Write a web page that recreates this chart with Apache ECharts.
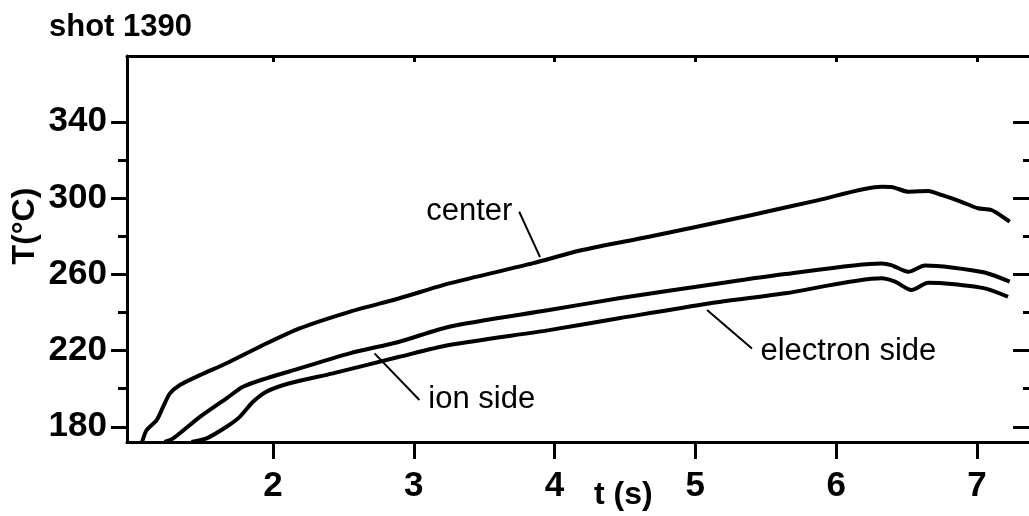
<!DOCTYPE html>
<html><head><meta charset="utf-8">
<script src="https://cdn.jsdelivr.net/npm/echarts@6/dist/echarts.min.js"></script>
<style>html,body{margin:0;padding:0;background:#fff}#c{width:1029px;height:516px}</style>
</head><body><div id="c"></div>
<script>
// ---- data ----
const xTicks = [2, 3, 4, 5, 6, 7];
const yMajor = [180, 220, 260, 300, 340];
const yMinor = [200, 240, 280, 320];

const centerTime = [1.07, 1.103, 1.174, 1.22, 1.268, 1.339, 1.481, 1.67, 1.906, 2.189, 2.544, 2.898, 3.252, 3.843, 4.197, 4.67, 5.402, 5.875, 6.323, 6.392, 6.513, 6.654, 6.748, 6.89, 7.008, 7.103, 7.233];
const centerTemp = [172.0, 178.3, 183.5, 190.5, 197.5, 201.9, 207.1, 213.3, 222.0, 231.6, 240.3, 247.4, 255.2, 265.7, 272.7, 279.7, 291.1, 298.9, 305.9, 305.8, 303.3, 303.7, 301.6, 298.0, 294.6, 293.7, 287.6];

const ionTime = [1.23, 1.291, 1.481, 1.67, 1.787, 1.953, 2.189, 2.544, 2.898, 3.252, 3.961, 4.457, 5.166, 5.639, 6.323, 6.392, 6.513, 6.631, 6.819, 7.056, 7.233];
const ionTemp = [172.0, 173.9, 185.2, 194.9, 201.0, 205.4, 210.6, 218.5, 224.6, 232.5, 241.2, 247.4, 255.2, 260.1, 265.7, 264.8, 261.3, 264.6, 263.6, 260.9, 256.1];

const electronTime = [1.42, 1.528, 1.67, 1.764, 1.858, 1.953, 2.118, 2.425, 2.898, 3.252, 3.961, 4.457, 5.095, 5.639, 6.323, 6.418, 6.536, 6.654, 6.819, 7.056, 7.221];
const electronTemp = [172.0, 173.9, 180.0, 185.2, 193.1, 198.4, 202.8, 208.0, 216.7, 222.9, 230.7, 236.9, 244.7, 250.0, 257.9, 256.1, 251.7, 255.5, 254.9, 252.6, 248.2];

// annotation anchors in data units: [label centre], [leader start], [leader end]
const centerNote = { text: 'center', label: [3.394, 292.9], from: [3.749, 292.8], to: [3.897, 269.0] };
const ionNote = { text: 'ion side', label: [3.483, 194.3], from: [3.04, 194.0], to: [2.721, 218.5] };
const electronNote = { text: 'electron side', label: [6.087, 219.5], from: [5.402, 221.1], to: [5.083, 241.2] };

const xMin = 0.963, xMax = 7.37, yMin = 172, yMax = 374.5;

function pairs(a, b) { return a.map((v, i) => [v, b[i]]); }

const FONT = '"Liberation Sans", Arial, Helvetica, sans-serif';
const black = '#000';

function noteSeries(name, t, v, note) {
  return {
    name: name, type: 'line', data: pairs(t, v),
    xAxisIndex: 0, yAxisIndex: 0,
    showSymbol: false, symbol: 'none', smooth: 0.25,
    lineStyle: { color: black, width: 4 },
    clip: true, silent: true,
    markLine: {
      silent: true, symbol: ['none', 'arrow'], symbolSize: [0, 10],
      lineStyle: { color: black, width: 2, type: 'solid' },
      label: { show: false },
      data: [[{ coord: note.from }, { coord: note.to }]]
    },
    markPoint: {
      silent: true, symbol: 'circle', symbolSize: 0,
      itemStyle: { color: 'transparent' },
      label: {
        show: true, position: 'inside', formatter: note.text,
        color: black, fontFamily: FONT, fontSize: 31, fontWeight: 'normal'
      },
      data: [{ coord: note.label }]
    }
  };
}

const chart = echarts.init(document.getElementById('c'), null, { renderer: 'canvas' });
chart.setOption({
  animation: false,
  backgroundColor: '#fff',
  grid: { left: 127, top: 56, width: 904, height: 386 },
  xAxis: [
    {
      type: 'value', position: 'bottom', min: xMin, max: xMax,
      axisLine: { show: true, lineStyle: { color: black, width: 3 } },
      axisTick: { show: true, inside: false, length: 17, customValues: xTicks, lineStyle: { color: black, width: 3 } },
      axisLabel: { show: true, customValues: xTicks, margin: 27, color: black, fontFamily: FONT, fontSize: 35, fontWeight: 'bold' },
      splitLine: { show: false }
    },
    {
      type: 'value', position: 'top', min: xMin, max: xMax,
      axisLine: { show: true, lineStyle: { color: black, width: 3 } },
      axisTick: { show: true, inside: true, length: 6, customValues: xTicks, lineStyle: { color: black, width: 3 } },
      axisLabel: { show: false },
      splitLine: { show: false }
    }
  ],
  yAxis: [
    {
      type: 'value', position: 'left', min: yMin, max: yMax,
      axisLine: { show: true, lineStyle: { color: black, width: 3 } },
      axisTick: { show: true, inside: false, length: 16, customValues: yMajor, lineStyle: { color: black, width: 3 } },
      axisLabel: { show: true, customValues: yMajor, margin: 20, color: black, fontFamily: FONT, fontSize: 35, fontWeight: 'bold' },
      splitLine: { show: false }
    },
    {
      type: 'value', position: 'left', min: yMin, max: yMax,
      axisLine: { show: false },
      axisTick: { show: true, inside: false, length: 9, customValues: yMinor, lineStyle: { color: black, width: 3 } },
      axisLabel: { show: false }, splitLine: { show: false }
    },
    {
      type: 'value', position: 'right', min: yMin, max: yMax,
      axisLine: { show: false },
      axisTick: { show: true, inside: true, length: 16, customValues: yMajor, lineStyle: { color: black, width: 3 } },
      axisLabel: { show: false }, splitLine: { show: false }
    },
    {
      type: 'value', position: 'right', min: yMin, max: yMax,
      axisLine: { show: false },
      axisTick: { show: true, inside: true, length: 6, customValues: yMinor, lineStyle: { color: black, width: 3 } },
      axisLabel: { show: false }, splitLine: { show: false }
    }
  ],
  graphic: [
    { type: 'text', left: 49, top: 12, style: { text: 'shot 1390', fill: black, font: 'bold 31px ' + FONT } },
    { type: 'text', left: 594, top: 479, style: { text: 't (s)', fill: black, font: 'bold 32px ' + FONT } },
    { type: 'text', x: 25, y: 226, rotation: Math.PI / 2,
      style: { text: 'T(°C)', fill: black, font: 'bold 32px ' + FONT, align: 'center', verticalAlign: 'middle' } }
  ],
  series: [
    noteSeries('center', centerTime, centerTemp, centerNote),
    noteSeries('ion side', ionTime, ionTemp, ionNote),
    noteSeries('electron side', electronTime, electronTemp, electronNote)
  ]
});
</script>
</body></html>
